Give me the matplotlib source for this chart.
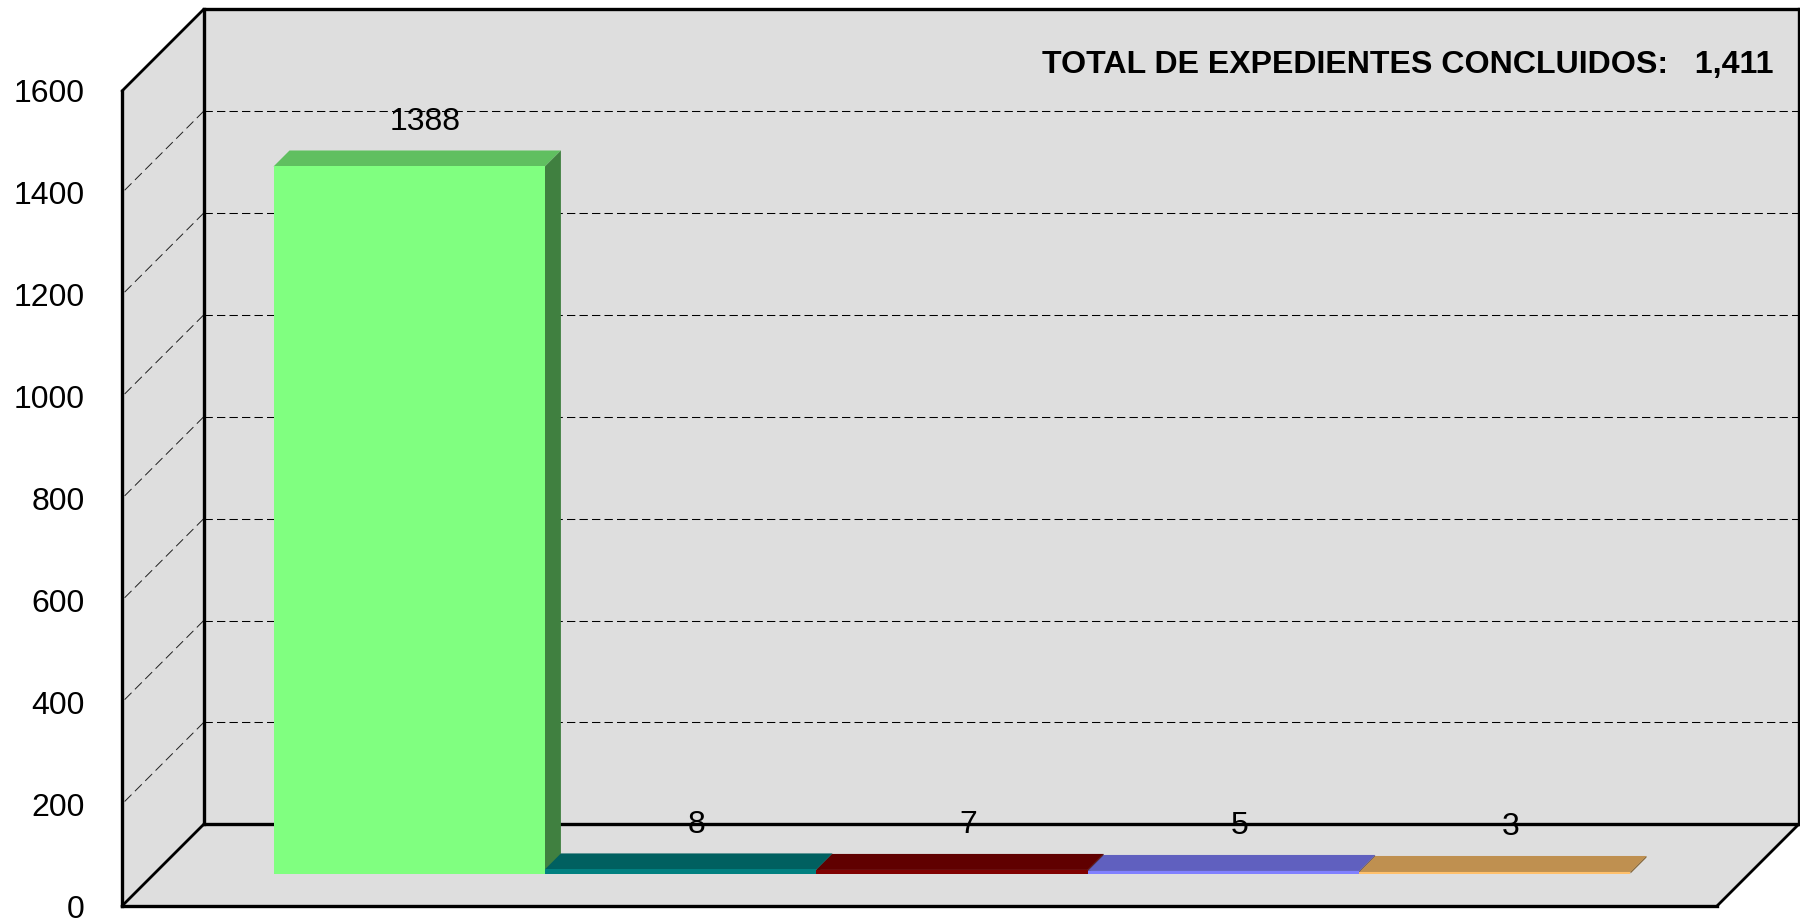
import matplotlib
matplotlib.use("Agg")
import matplotlib.pyplot as plt
from matplotlib.transforms import Affine2D

W, H = 1800, 921
plt.rcParams['font.family'] = ['Liberation Sans', 'DejaVu Sans']

values = [1388, 8, 7, 5, 3]
labels = ['1388', '8', '7', '5', '3']
front_colors = ['#80FF80', '#008080', '#800000', '#8080FF', '#FFC06B']
top_colors = ['#60BF60', '#006060', '#600000', '#6060BF', '#BF9050']
side_colors = ['#408040', '#004040', '#400000', '#404080', '#806030']
yticks = [0, 200, 400, 600, 800, 1000, 1200, 1400, 1600]
note = 'TOTAL DE EXPEDIENTES CONCLUIDOS:   1,411'

WALL = '#DEDEDE'
DEPTH = 81.7
BAR_D0 = 32.5
BAR_D1 = 48.5

fig = plt.figure(figsize=(W / 100, H / 100), dpi=100, facecolor='white')
L, R, B, T = 122, 1717, H - 906, H - 91
ax = fig.add_axes([L / W, B / H, (R - L) / W, (T - B) / H])
ax.patch.set_visible(False)
for s in ax.spines.values():
    s.set_visible(False)

xmin, xmax = -0.9385, 4.9385
ymax = yticks[-1]
ax.set_xlim(xmin, xmax)
ax.set_ylim(0, ymax)
ax.set_xticks([])
ax.set_yticks(yticks)
ax.tick_params(axis='y', length=0, pad=27, labelsize=23, labelcolor='black')


def at(d):
    return ax.transData + Affine2D().translate(d, d)


def quad(xs, ys, ds, **kw):
    """Polygon whose vertices are data (x, y) pushed back by depth d (pixels)."""
    pts = [at(d).transform((x, y)) for x, y, d in zip(xs, ys, ds)]
    ax.fill([p[0] for p in pts], [p[1] for p in pts], transform=None,
            clip_on=False, linewidth=0, **kw)


def seg(x0, y0, d0, x1, y1, d1, **kw):
    p, q = at(d0).transform((x0, y0)), at(d1).transform((x1, y1))
    ax.plot([p[0], q[0]], [p[1], q[1]], transform=None, clip_on=False, **kw)


# walls and floor
quad([xmin, xmax, xmax, xmin], [0, 0, ymax, ymax], [DEPTH] * 4, color=WALL, zorder=1)
quad([xmin, xmin, xmin, xmin], [0, 0, ymax, ymax], [0, DEPTH, DEPTH, 0], color=WALL, zorder=1)
quad([xmin, xmax, xmax, xmin], [0, 0, 0, 0], [0, 0, DEPTH, DEPTH], color=WALL, zorder=1)

# dashed grid on back and left walls
for v in yticks[1:-1]:
    seg(xmin, v, DEPTH, xmax, v, DEPTH, color='black', lw=0.75,
        dashes=(8, 4), zorder=2)
    seg(xmin, v, DEPTH, xmin, v, 0, color='#202020', lw=0.7,
        dashes=(10, 5), zorder=2)

# frame
frame = dict(color='black', lw=2.4, zorder=3, solid_capstyle='projecting')
seg(xmin, 0, DEPTH, xmax, 0, DEPTH, **frame)
seg(xmin, ymax, DEPTH, xmax, ymax, DEPTH, **frame)
seg(xmin, 0, DEPTH, xmin, ymax, DEPTH, **frame)
seg(xmax, 0, DEPTH, xmax, ymax, DEPTH, **frame)
seg(xmin, 0, 0, xmin, ymax, 0, **frame)
seg(xmin, 0, 0, xmax, 0, 0, **frame)
diag = dict(color='black', lw=2.0, zorder=3, solid_capstyle='round')
seg(xmin, 0, 0, xmin, 0, DEPTH, **diag)
seg(xmax, 0, 0, xmax, 0, DEPTH, **diag)
seg(xmin, ymax, 0, xmin, ymax, DEPTH, **diag)

# 3D bars
for i, v in enumerate(values):
    x0, x1 = i - 0.5, i + 0.5
    z = 4 + i * 0.01
    ax.bar(i, v, width=1.0, color=front_colors[i], linewidth=0,
           transform=at(BAR_D0), zorder=z + 0.002, clip_on=False)
    quad([x0, x1, x1, x0], [v, v, v, v], [BAR_D0, BAR_D0, BAR_D1, BAR_D1],
         color=top_colors[i], zorder=z)
    quad([x1, x1, x1, x1], [0, 0, v, v], [BAR_D0, BAR_D1, BAR_D1, BAR_D0],
         color=side_colors[i], zorder=z)
    ax.text(i, v, labels[i], transform=at(BAR_D1) + Affine2D().translate(0, 28.5),
            ha='center', va='center', fontsize=23, color='black', zorder=6,
            clip_on=False)

ax.set_xlim(xmin, xmax)
ax.set_ylim(0, ymax)

fig.text(1774 / W, 1 - 65 / H, note, ha='right', va='center', fontsize=23.1,
         fontweight='bold', color='black', zorder=7)

fig.savefig('out.png', dpi=100, facecolor='white')
